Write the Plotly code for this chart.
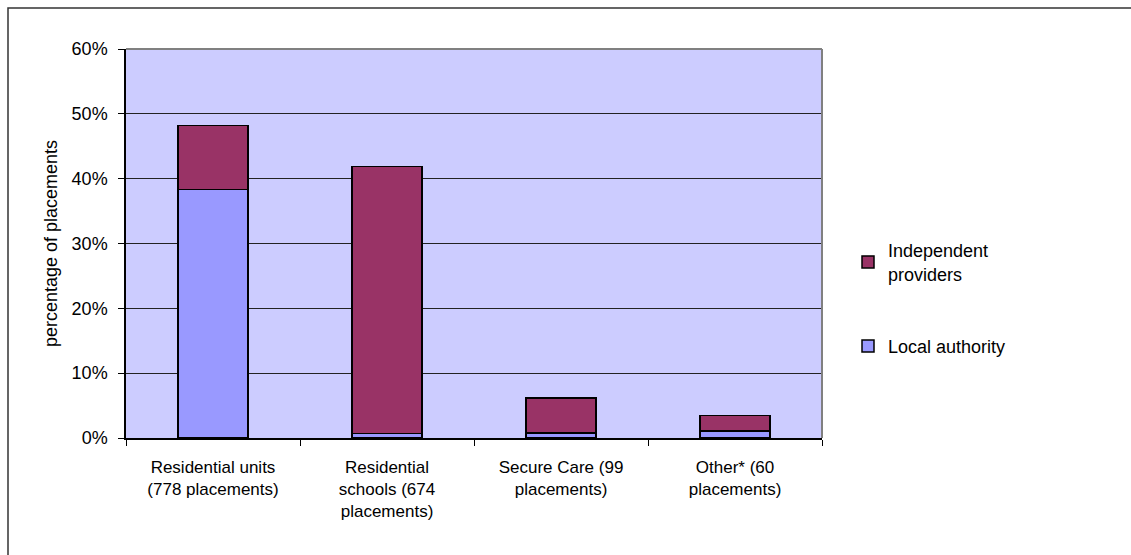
import plotly.graph_objects as go

# Share of placements by setting type and provider
categories = [
    "Residential units<br>(778 placements)",
    "Residential<br>schools (674<br>placements)",
    "Secure Care (99<br>placements)",
    "Other* (60<br>placements)",
]
local_authority = [38.3, 0.7, 0.8, 1.1]
independent_providers = [9.9, 41.2, 5.4, 2.4]
y_ticks = [0, 10, 20, 30, 40, 50, 60]
y_tick_labels = [f"{v}%" for v in y_ticks]

W, H = 1131, 555
L, R, T, B = 126, 309, 49, 117
pw, ph = W - L - R, H - T - B

def px_x(x):
    return (x - L) / pw

def px_y(y):
    return (H - B - y) / ph

fig = go.Figure()
fig.add_trace(go.Bar(
    x=categories, y=local_authority, name="Local authority",
    marker=dict(color="#9999FF", line=dict(color="#000000", width=1.5)),
    legendgroup="la", legendrank=2,
))
fig.add_trace(go.Bar(
    x=categories, y=independent_providers, name="Independent<br>providers",
    marker=dict(color="#993366", line=dict(color="#000000", width=1.5)),
    legendgroup="ind", legendrank=1,
))

shapes = [
    # outer frame around the whole chart
    dict(type="rect", xref="paper", yref="paper",
         x0=px_x(8), x1=px_x(W + 10), y0=px_y(H + 10), y1=px_y(8),
         line=dict(color="#333333", width=1.5), fillcolor="rgba(0,0,0,0)"),
    # grey top and right edges of the plot area
    dict(type="line", xref="paper", yref="paper", x0=0, x1=1, y0=1, y1=1,
         line=dict(color="#808080", width=2)),
    dict(type="line", xref="paper", yref="paper", x0=1, x1=1, y0=0, y1=1,
         line=dict(color="#808080", width=2)),
]

fig.update_layout(
    width=W, height=H,
    margin=dict(l=L, r=R, t=T, b=B, pad=0),
    barmode="stack",
    bargap=0.6,
    plot_bgcolor="#CCCCFF",
    paper_bgcolor="#FFFFFF",
    font=dict(family="Liberation Sans, Arial, sans-serif", color="#000000", size=17),
    shapes=shapes,
    showlegend=True,
    legend=dict(
        x=px_x(848), y=px_y(232), xanchor="left", yanchor="top",
        traceorder="grouped", tracegroupgap=46,
        font=dict(size=18, family="Liberation Sans, Arial, sans-serif"),
        bgcolor="rgba(0,0,0,0)", itemwidth=30,
    ),
    xaxis=dict(
        showline=True, linecolor="#000000", linewidth=1.5,
        ticks="outside", tickson="boundaries", ticklen=6, tickcolor="#000000",
        tickfont=dict(family="Liberation Sans, Arial, sans-serif", size=17),
        ticklabelstandoff=13,
        showgrid=False, fixedrange=True,
    ),
    yaxis=dict(
        range=[0, 60], tickvals=y_ticks, ticktext=y_tick_labels,
        showline=True, linecolor="#000000", linewidth=1.5,
        ticks="outside", ticklen=6, tickcolor="#000000",
        ticklabelstandoff=7,
        showgrid=True, gridcolor="#222222", gridwidth=1,
        zeroline=False,
        tickfont=dict(size=18),
        title=dict(text="percentage of placements", font=dict(size=18), standoff=9),
        fixedrange=True,
    ),
)

fig.write_html("out.html")
